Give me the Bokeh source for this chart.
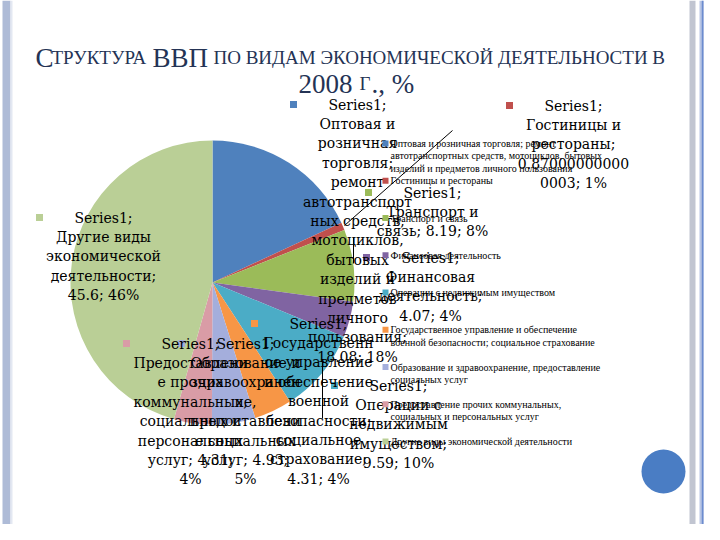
import math
from bokeh.plotting import figure
from bokeh.models import Range1d, ColumnDataSource
from bokeh.core.properties import value
from bokeh.embed import file_html
from bokeh.resources import INLINE

# ---------------- data ----------------
series_name = "Series1"
categories = [
    "Оптовая и розничная торговля; ремонт автотранспортных средств, мотоциклов, бытовых изделий и предметов личного пользования",
    "Гостиницы и рестораны",
    "Транспорт и связь",
    "Финансовая деятельность",
    "Операции с недвижимым имуществом",
    "Государственное управление и обеспечение военной безопасности; социальное страхование",
    "Образование и здравоохранение, предоставление социальных услуг",
    "Предоставление прочих коммунальных, социальных и персональных услуг",
    "Другие виды экономической деятельности",
]
values = [18.08, 0.870000000000003, 8.19, 4.07, 9.59, 4.31, 4.93, 4.31, 45.6]
colors = ["#4F81BD", "#C0504D", "#9BBB59", "#8064A2", "#4BACC6",
          "#F79646", "#A4AEDC", "#D99CA6", "#BACF96"]

title_line1 = [("С", "big"), ("ТРУКТУРА", "small"), ("ВВП", "big"),
               ("ПО ВИДАМ ЭКОНОМИЧЕСКОЙ ДЕЯТЕЛЬНОСТИ В", "small")]
title_line2 = [("2008", "big"), ("Г", "small"), ("., %", "big")]

# ---------------- layout (screen pixel coordinates) ----------------
W, H = 704, 524
def Y(s):  # screen y -> data y
    return H - s

cx, cy, R = 212, 282, 142
label_cx = [357, 573, 432, 430, 398, 318, 245, 190, 103]
label_top = [104, 105, 192, 257, 385, 323, 343, 343, 217]
label_wrap = [13, 13, 15, 13, 13, 13, 13, 13, 13]
label_step = 19.4
legend_x, legend_top, legend_step, legend_line = 385, 143, 37.25, 12.3

title_x1 = [35, 51, 152, 213]
title_x2 = [298, 359, 371]
title_y1, title_y2 = 57, 83
big_size, small_size = "27px", "19px"
title_color = "#243355"


def wrap(text, width):
    lines, cur = [], ""
    for w in text.split(" "):
        while len(w) > width:
            if cur:
                lines.append(cur)
                cur = ""
            lines.append(w[:width])
            w = w[width:]
        cand = w if not cur else cur + " " + w
        if len(cand) <= width:
            cur = cand
        else:
            lines.append(cur)
            cur = w
    if cur:
        lines.append(cur)
    return lines


p = figure(width=W, height=H, x_range=Range1d(0, W), y_range=Range1d(0, H),
           output_backend="svg", toolbar_location=None, min_border=0,
           x_axis_location=None, y_axis_location=None)
p.grid.visible = False
p.outline_line_color = None
p.background_fill_color = "white"
p.border_fill_color = "white"

# slide decoration
p.quad(left=[2], right=[10], bottom=[Y(H)], top=[Y(0)], fill_color="#AEBBD7", line_color=None)
p.quad(left=[10], right=[12], bottom=[Y(H)], top=[Y(0)], fill_color="#E3E8F2", line_color=None)
p.quad(left=[689], right=[695], bottom=[Y(H)], top=[Y(0)], fill_color="#C1C5D1", line_color=None)
p.quad(left=[699], right=[W], bottom=[Y(H)], top=[Y(0)], fill_color="#B9C6E5", line_color=None)
p.segment(x0=[702], y0=[Y(H)], x1=[702], y1=[Y(0)], line_color="#6C8CCF", line_width=1.5)
p.scatter(x=[663], y=[Y(471)], size=44, marker="circle", fill_color="#4A7DC4", line_color=None)

# pie
total = sum(values)
starts, ends, cum = [], [], 0.0
for v in values:
    starts.append(math.pi / 2 - 2 * math.pi * cum / total)
    cum += v
    ends.append(math.pi / 2 - 2 * math.pi * cum / total)
pie_src = ColumnDataSource(dict(start=starts, end=ends, color=colors))
p.wedge(x=cx, y=Y(cy), radius=R, start_angle="start", end_angle="end",
        direction="clock", fill_color="color", line_color=None, source=pie_src)

# leader lines
p.segment(x0=[344], y0=[Y(225)], x1=[452], y1=[Y(130)], line_color="black", line_width=1)
p.segment(x0=[353], y0=[Y(237)], x1=[353], y1=[Y(263)], line_color="black", line_width=1)
p.segment(x0=[322], y0=[Y(360)], x1=[322], y1=[Y(418)], line_color="black", line_width=1)

# data labels
lx, ly, lt = [], [], []
mx, my, mc = [], [], []
for i, (cat, v) in enumerate(zip(categories, values)):
    pct = round(v / total * 100)
    txt = f"{series_name}; {cat}; {v}; {pct}%"
    lines = wrap(txt, label_wrap[i])
    for k, line in enumerate(lines):
        lx.append(label_cx[i])
        ly.append(Y(label_top[i] + k * label_step))
        lt.append(line)
    mx.append(label_cx[i] - 64)
    my.append(Y(label_top[i]))
    mc.append(colors[i])
p.scatter(x=mx, y=my, size=7, marker="square", fill_color=mc, line_color=None)
p.text(x=lx, y=ly, text=lt, text_align="center", text_baseline="middle",
       text_font=value("DejaVu Serif"), text_font_size="14px", text_color="black")

# legend
gx, gy, gt = [], [], []
for i, cat in enumerate(categories):
    top = legend_top + i * legend_step
    for k, line in enumerate(wrap(cat, 45)):
        gx.append(legend_x + 5)
        gy.append(Y(top + k * legend_line))
        gt.append(line)
p.scatter(x=[legend_x] * len(categories),
          y=[Y(legend_top + i * legend_step) for i in range(len(categories))],
          size=6, marker="square", fill_color=colors, line_color=None)
p.text(x=gx, y=gy, text=gt, text_align="left", text_baseline="middle",
       text_font=value("Liberation Serif"), text_font_size="10px", text_color="black")

# title (small caps imitation)
for (seg, kind), x in zip(title_line1, title_x1):
    p.text(x=[x], y=[Y(title_y1)], text=[seg], text_align="left", text_baseline="alphabetic",
           text_font=value("Liberation Serif"),
           text_font_size=big_size if kind == "big" else small_size, text_color=title_color)
for (seg, kind), x in zip(title_line2, title_x2):
    p.text(x=[x], y=[Y(title_y2)], text=[seg], text_align="left", text_baseline="alphabetic",
           text_font=value("Liberation Serif"),
           text_font_size=big_size if kind == "big" else small_size, text_color=title_color)

open("out.html", "w").write(file_html(p, INLINE))
